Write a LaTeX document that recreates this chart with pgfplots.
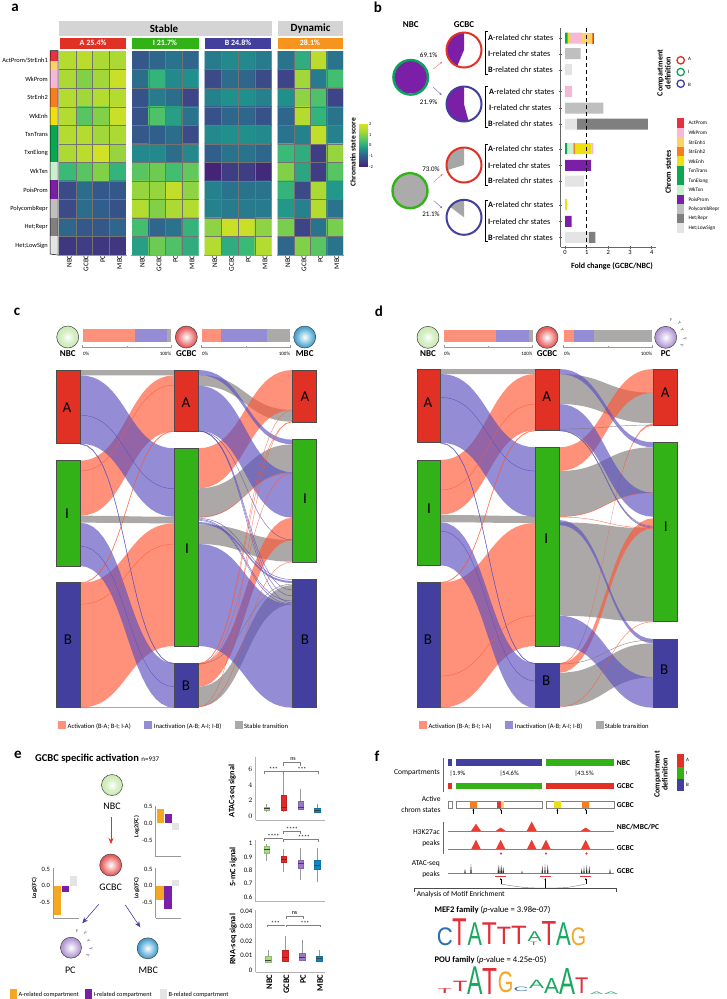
\documentclass[border=0pt]{standalone}
\usepackage{fontspec}
\setmainfont{Carlito}
\newfontfamily\logofont{Liberation Sans}
\usepackage{graphicx}
\usepackage{pgfplots}
\usepackage{pgfplotstable}
\pgfplotsset{compat=1.18}
\usetikzlibrary{arrows.meta}

\newcommand\fs[1]{\fontsize{#1}{#1}\selectfont}
\definecolor{cA}{HTML}{E13024}
\definecolor{cI}{HTML}{32B216}
\definecolor{cB}{HTML}{423F9F}
\definecolor{cO}{HTML}{F7941D}
\definecolor{cGr}{HTML}{0AA35E}
\definecolor{sAct}{HTML}{E5323C}
\definecolor{sWkP}{HTML}{F6B8D6}
\definecolor{sSt1}{HTML}{FDD068}
\definecolor{sSt2}{HTML}{F57F20}
\definecolor{sWkE}{HTML}{EEE010}
\definecolor{sTxn}{HTML}{0AA650}
\definecolor{sWkT}{HTML}{C8F0CC}
\definecolor{sPoi}{HTML}{7B1FA6}
\definecolor{sPol}{HTML}{BFBFBF}
\definecolor{sHet}{HTML}{7F7F7F}
\definecolor{sLow}{HTML}{E4E4E4}
\definecolor{lgC}{HTML}{2A6FB5}
\definecolor{lgT}{HTML}{E0303A}
\definecolor{lgA}{HTML}{1AA860}
\definecolor{lgG}{HTML}{F5A623}
\definecolor{bNBC}{HTML}{A8DC82}
\definecolor{bGC}{HTML}{E02A2A}
\definecolor{bPC}{HTML}{9A78C8}
\definecolor{bMBC}{HTML}{1186C2}
\definecolor{Rb}{HTML}{FF5533}
\definecolor{Pb}{HTML}{5A4FBE}
\definecolor{Gb}{HTML}{807A7A}

% cell balls
\pgfdeclareradialshading{sN}{\pgfpointorigin}{color(0bp)=(white); color(14bp)=(bNBC!45); color(50bp)=(bNBC)}
\pgfdeclareradialshading{sG}{\pgfpointorigin}{color(0bp)=(white); color(22bp)=(bGC!75); color(50bp)=(bGC!85!black)}
\pgfdeclareradialshading{sP}{\pgfpointorigin}{color(0bp)=(white); color(22bp)=(bPC!75); color(50bp)=(bPC!85!black)}
\pgfdeclareradialshading{sM}{\pgfpointorigin}{color(0bp)=(white); color(22bp)=(bMBC!75); color(50bp)=(bMBC!85!black)}
\pgfdeclareplotmark{ballN}{\pgfpathcircle{\pgfpointorigin}{\pgfplotmarksize}\pgfshadepath{sN}{0}\pgfusepathqstroke}
\pgfdeclareplotmark{ballG}{\pgfpathcircle{\pgfpointorigin}{\pgfplotmarksize}\pgfshadepath{sG}{0}\pgfusepathqstroke}
\pgfdeclareplotmark{ballP}{\pgfpathcircle{\pgfpointorigin}{\pgfplotmarksize}\pgfshadepath{sP}{0}\pgfusepathqstroke}
\pgfdeclareplotmark{ballM}{\pgfpathcircle{\pgfpointorigin}{\pgfplotmarksize}\pgfshadepath{sM}{0}\pgfusepathqstroke}
\newcommand\ball[4][10.5]{\addplot[only marks,mark=ball#2,mark size=#1pt,mark options={draw=black!75,line width=.5pt}] coordinates {(#3,#4)};}

\pgfplotsset{
  heat/.style={scale only axis,width=#1,height=204pt,y dir=reverse,
    xmin=-0.5,xmax=3.5,ymin=-0.5,ymax=10.5,
    colormap={vir}{rgb255=(70,28,115) rgb255=(62,66,135) rgb255=(45,105,140) rgb255=(32,145,140) rgb255=(55,185,120) rgb255=(115,205,80) rgb255=(175,218,50) rgb255=(215,226,35)},
    point meta min=-2,point meta max=2,
    xtick={0,1,2,3},xticklabels={NBC,GCBC,PC,MBC},
    x tick label style={rotate=90,anchor=east,font=\fs{7.2},inner sep=0,yshift=-2pt},
    major tick length=0pt,axis line style={draw=none},ytick=\empty},
  hp/.style={matrix plot*,mesh/cols=4,point meta=explicit},
  small/.style={scale only axis,clip=false,axis x line=bottom,axis y line=left,
    axis line style={draw=black!40,line width=.7pt,-},
    xtick=\empty,ytick={-0.5,0,0.5},yticklabels={-0.5,0.0,0.5},
    tick label style={font=\fs{6.5},inner sep=1pt},ytick style={draw=none}},
  sb/.style={ybar,bar shift=0pt,bar width=7.3pt,fill=#1,draw=none},
  bx/.style={scale only axis,clip=false,axis x line=bottom,axis y line=left,
    axis line style={draw=black!30,line width=.8pt,-},
    width=69.3pt,xmin=255.7,xmax=325,xtick=\empty,scaled y ticks=false,
    tick label style={font=\fs{6.8},inner sep=1pt},ytick style={draw=none}},
}
% one box: position, low whisker, q1, median, q3, high whisker, colour
\newcommand\bxp[7]{%
  \pgfmathsetmacro\xl{#1-2.85}\pgfmathsetmacro\xr{#1+2.85}%
  \edef\tmp{\noexpand\addplot[black!40,line width=.7pt] coordinates {(#1,#2)(#1,#6)};
    \noexpand\addplot[fill=#7,draw=#7!85!black,line width=.2pt] coordinates {(\xl,#3)(\xr,#3)(\xr,#5)(\xl,#5)} -- cycle;
    \noexpand\addplot[black!75,line width=.6pt] coordinates {(\xl,#4)(\xr,#4)};}\tmp}

% flow ribbon: x0, top0, bot0, x1, top1, bot1, style
\newcommand\flow[7]{%
  \gdef\pts{}%
  \pgfmathsetmacro\dx{#4-#1}%
  \foreach \t in {0,0.05,0.1,0.15,0.2,0.25,0.3,0.35,0.4,0.45,0.5,0.55,0.6,0.65,0.7,0.75,0.8,0.85,0.9,0.95,1}{%
    \pgfmathsetmacro\fx{1.5*\t*(1-\t)+\t*\t*\t}%
    \pgfmathsetmacro\fy{3*\t*\t-2*\t*\t*\t}%
    \pgfmathsetmacro\px{#1+\dx*\fx}%
    \pgfmathsetmacro\py{#2+(#5-#2)*\fy}%
    \xdef\pts{\pts(\px,\py)}%
  }%
  \foreach \t in {0,0.05,0.1,0.15,0.2,0.25,0.3,0.35,0.4,0.45,0.5,0.55,0.6,0.65,0.7,0.75,0.8,0.85,0.9,0.95,1}{%
    \pgfmathsetmacro\fx{1.5*\t*(1-\t)+\t*\t*\t}%
    \pgfmathsetmacro\fy{3*\t*\t-2*\t*\t*\t}%
    \pgfmathsetmacro\px{#4-\dx*\fx}%
    \pgfmathsetmacro\py{#6+(#3-#6)*\fy}%
    \xdef\pts{\pts(\px,\py)}%
  }%
  \edef\tmp{\noexpand\addplot[#7] coordinates {\pts} -- cycle;}\tmp
}
% pie wedge: cx, cy, r, from angle, to angle, colour
\newcommand\pieW[6]{%
  \gdef\pts{(#1,#2)}%
  \foreach \f in {0,0.1,0.2,0.3,0.4,0.5,0.6,0.7,0.8,0.9,1}{%
    \pgfmathsetmacro\aa{#4+(#5-#4)*\f}%
    \pgfmathsetmacro\px{#1+#3*cos(\aa)}%
    \pgfmathsetmacro\py{#2-#3*sin(\aa)}%
    \xdef\pts{\pts(\px,\py)}%
  }%
  \edef\tmp{\noexpand\addplot[fill=#6,draw=none] coordinates {\pts} -- cycle;}\tmp
}
% cell lines over one heatmap: left edge, width
\newcommand\hgrid[2]{%
  \pgfmathsetmacro\gxe{#1+#2}%
  \foreach \j in {1,2,3}{%
    \pgfmathsetmacro\gx{#1+#2*\j/4}%
    \edef\tmp{\noexpand\addplot[black!55,line width=.25pt] coordinates {(\gx,51)(\gx,255)};}\tmp}%
  \foreach \i in {1,...,10}{%
    \pgfmathsetmacro\gy{51+204*\i/11}%
    \edef\tmp{\noexpand\addplot[black!55,line width=.25pt] coordinates {(#1,\gy)(\gxe,\gy)};}\tmp}%
}
\newcommand\rect[5]{\addplot[fill=#5,draw=none] coordinates {(#1,#2)(#3,#2)(#3,#4)(#1,#4)} -- cycle;}
\newcommand\nd[5]{\addplot[fill=#5,draw=black!70,line width=.5pt] coordinates {(#1,#2)(#3,#2)(#3,#4)(#1,#4)} -- cycle;}
\newcommand\lin[2][black]{\addplot[#1,line width=.5pt] coordinates {#2};}
\newcommand\lab[4][]{\node[inner sep=0,font=\fs{#2},#1] at (#3) {#4};}
\newcommand\tri[5]{%
  \pgfmathsetmacro\xl{#1-#3/2}\pgfmathsetmacro\xr{#1+#3/2}\pgfmathsetmacro\yt{#2-#4}%
  \edef\tmp{\noexpand\addplot[fill=#5,draw=none] coordinates {(\xl,#2)(#1,\yt)(\xr,#2)} -- cycle;}\tmp}
\newcommand\lgl[6]{\node[anchor=south west,inner sep=0] at (#1,#2) {\resizebox{#3pt}{#4pt}{\color{#6}\logofont #5}};}
\newcommand\logo[6]{% x0 x1 ytop ybot letter colour
  \pgfmathsetmacro\ww{#2-#1}\pgfmathsetmacro\hh{#4-#3}%
  \edef\tmp{\noexpand\lgl{#1}{#4}{\ww}{\hh}{#5}{#6}}\tmp}
\newcommand\Y[3]{\node[inner sep=0,font=\fs{5},text=black!70,rotate=#3] at (#1,#2) {Y};}

\tikzset{
  fr/.style={fill=Rb,fill opacity=.65,draw=none},
  fp/.style={fill=Pb,fill opacity=.65,draw=none},
  fg/.style={fill=Gb,fill opacity=.65,draw=none},
  lr/.style={draw=Rb,draw opacity=.75,line width=.35pt},
  lp/.style={draw=Pb,draw opacity=.85,line width=.35pt},
  lg/.style={draw=Gb,draw opacity=.85,line width=.35pt},
}

% panel b, fold change of the chromatin states per row (row = pixel row of the bar)
\pgfplotstableread{
y     TxnE WkT  St2a WkE  WkP  St1  St2b Act  Poi  Pol  Low  Het
38.0  0.08 0    0.05 0.10 0.55 0.45 0.05 0.05 0    0    0    0
53.7  0    0    0    0    0    0    0    0    0    0.72 0    0
69.7  0    0    0    0    0    0    0    0    0    0    0.32 0
91.3  0    0    0    0.04 0.27 0    0    0    0    0    0    0
108.0 0    0    0    0    0    0    0    0    0    1.77 0    0
124.0 0    0    0    0    0    0    0    0    0    0    0.55 3.28
148.7 0.10 0.28 0.07 0.78 0.08 0    0    0    0    0    0    0
165.3 0    0    0    0    0    0    0    0    1.20 0    0    0
181.0 0    0    0    0    0    0    0    0    0    0    0.88 0
204.7 0    0    0    0.10 0    0    0    0    0    0    0    0
221.3 0    0    0    0    0    0    0    0    0.30 0    0    0
237.3 0    0    0    0    0    0    0    0    0    0    1.10 0.30
}\foldtab

\begin{document}
\begin{tikzpicture}
\path[use as bounding box] (0,0) rectangle (726pt,-999pt);

% ---------- a: heatmaps
\begin{axis}[heat=67pt,at={(59pt,-51pt)},anchor=north west,
  ytick={0,...,10},yticklabels={ActProm/StrEnh1,WkProm,StrEnh2,WkEnh,TxnTrans,TxnElong,WkTxn,PoisProm,PolycombRepr,Het;Repr,Het;LowSign},
  y tick label style={font=\fs{6.4},inner sep=0,xshift=-11pt}]
\addplot[hp] coordinates {
(0,0)[1.5](1,0)[1.6](2,0)[1.4](3,0)[1.4]
(0,1)[1.4](1,1)[1.0](2,1)[1.3](3,1)[1.8]
(0,2)[1.5](1,2)[1.3](2,2)[1.5](3,2)[1.5]
(0,3)[1.5](1,3)[0.6](2,3)[1.0](3,3)[1.8]
(0,4)[1.5](1,4)[1.5](2,4)[1.3](3,4)[1.4]
(0,5)[1.4](1,5)[1.6](2,5)[1.9](3,5)[1.2]
(0,6)[0.3](1,6)[0.6](2,6)[1.0](3,6)[0.2]
(0,7)[-1.3](1,7)[-0.8](2,7)[-1.1](3,7)[-1.1]
(0,8)[-1.3](1,8)[-0.8](2,8)[-1.0](3,8)[-1.2]
(0,9)[-0.9](1,9)[-1.1](2,9)[-1.1](3,9)[-0.9]
(0,10)[-1.6](1,10)[-1.5](2,10)[-1.6](3,10)[-1.6]
};
\end{axis}
\begin{axis}[heat=66.5pt,at={(132pt,-51pt)},anchor=north west]
\addplot[hp] coordinates {
(0,0)[-1.1](1,0)[-0.9](2,0)[-0.7](3,0)[-0.9]
(0,1)[-0.8](1,1)[0.2](2,1)[-0.4](3,1)[-0.3]
(0,2)[-1.2](1,2)[-0.6](2,2)[-0.8](3,2)[-1.4]
(0,3)[-1.2](1,3)[0.5](2,3)[-0.1](3,3)[-0.7]
(0,4)[-1.1](1,4)[-1.0](2,4)[-0.8](3,4)[-1.3]
(0,5)[-0.4](1,5)[-0.4](2,5)[-0.8](3,5)[-0.4]
(0,6)[0.6](1,6)[0.8](2,6)[0.4](3,6)[0.7]
(0,7)[1.2](1,7)[1.2](2,7)[1.7](3,7)[1.1]
(0,8)[1.5](1,8)[1.0](2,8)[1.4](3,8)[1.5]
(0,9)[0.4](1,9)[-0.9](2,9)[-0.7](3,9)[0.2]
(0,10)[-0.1](1,10)[0.8](2,10)[0.5](3,10)[0.1]
};
\end{axis}
\begin{axis}[heat=67pt,at={(204.5pt,-51pt)},anchor=north west]
\addplot[hp] coordinates {
(0,0)[-0.6](1,0)[-0.4](2,0)[-0.4](3,0)[-0.6]
(0,1)[-1.3](1,1)[-0.8](2,1)[-0.9](3,1)[-1.3]
(0,2)[-0.5](1,2)[-0.3](2,2)[-0.3](3,2)[-0.5]
(0,3)[-1.2](1,3)[-0.9](2,3)[-0.9](3,3)[-1.2]
(0,4)[-0.4](1,4)[-0.3](2,4)[-0.3](3,4)[-0.4]
(0,5)[-1.0](1,5)[-0.7](2,5)[-0.7](3,5)[-0.9]
(0,6)[-1.9](1,6)[-1.5](2,6)[-1.5](3,6)[-1.8]
(0,7)[-0.5](1,7)[-0.7](2,7)[-0.7](3,7)[-0.7]
(0,8)[-0.5](1,8)[-0.6](2,8)[-0.6](3,8)[-0.6]
(0,9)[1.1](1,9)[1.8](2,9)[1.8](3,9)[1.1]
(0,10)[1.5](1,10)[0.1](2,10)[0.3](3,10)[1.5]
};
\end{axis}
\begin{axis}[heat=65.5pt,at={(277.5pt,-51pt)},anchor=north west]
\addplot[hp] coordinates {
(0,0)[-0.7](1,0)[0.1](2,0)[1.6](3,0)[-0.7]
(0,1)[-1.4](1,1)[1.3](2,1)[-0.6](3,1)[0.4]
(0,2)[-0.3](1,2)[1.1](2,2)[0.5](3,2)[-1.4]
(0,3)[-0.9](1,3)[1.5](2,3)[0.2](3,3)[-0.7]
(0,4)[-0.7](1,4)[-0.5](2,4)[1.7](3,4)[-0.5]
(0,5)[0.3](1,5)[0.1](2,5)[-1.5](3,5)[1.2]
(0,6)[1.0](1,6)[0.0](2,6)[-1.5](3,6)[0.6]
(0,7)[0.2](1,7)[-1.3](2,7)[1.4](3,7)[-0.2]
(0,8)[-0.2](1,8)[-0.5](2,8)[1.5](3,8)[-0.7]
(0,9)[0.9](1,9)[-1.4](2,9)[-0.7](3,9)[0.9]
(0,10)[-0.9](1,10)[1.0](2,10)[0.6](3,10)[-0.7]
};
\end{axis}
% colour key
\begin{axis}[scale only axis,width=8pt,height=42.4pt,at={(359pt,-124.3pt)},anchor=north west,hide axis,
  xmin=0,xmax=1,ymin=-2,ymax=2,point meta min=-2,point meta max=2,
  colormap={vir}{rgb255=(70,28,115) rgb255=(62,66,135) rgb255=(45,105,140) rgb255=(32,145,140) rgb255=(55,185,120) rgb255=(115,205,80) rgb255=(175,218,50) rgb255=(215,226,35)}]
\addplot[surf,shader=interp,mesh/cols=2,point meta=y] coordinates {
(0,-2)(1,-2)(0,-1)(1,-1)(0,0)(1,0)(0,1)(1,1)(0,2)(1,2)};
\end{axis}

% ---------- b: fold change bars
\begin{axis}[scale only axis,width=95.3pt,height=219pt,at={(560.7pt,-28.3pt)},anchor=north west,
  xbar stacked,bar width=11pt,y dir=reverse,
  xmin=-0.2,xmax=4.2,ymin=28.3,ymax=247.3,
  axis x line=bottom,axis y line=left,axis line style={draw=black!60,line width=.6pt,-},
  xtick={0,1,2,3,4},ytick={38,53.7,69.7,91.3,108,124,148.7,165.3,181,204.7,221.3,237.3},yticklabels={},
  major tick length=2.5pt,tick style={draw=black!60,line width=.4pt},
  tick label style={font=\fs{6.5},inner sep=1.5pt},
  /pgf/number format/assume math mode=true]
\addplot[fill=sTxn,draw=none] table[x=TxnE,y=y]{\foldtab};
\addplot[fill=sWkT,draw=none] table[x=WkT,y=y]{\foldtab};
\addplot[fill=sSt2,draw=none] table[x=St2a,y=y]{\foldtab};
\addplot[fill=sWkE,draw=none] table[x=WkE,y=y]{\foldtab};
\addplot[fill=sWkP,draw=none] table[x=WkP,y=y]{\foldtab};
\addplot[fill=sSt1,draw=none] table[x=St1,y=y]{\foldtab};
\addplot[fill=sSt2,draw=none] table[x=St2b,y=y]{\foldtab};
\addplot[fill=sAct,draw=none] table[x=Act,y=y]{\foldtab};
\addplot[fill=sPoi,draw=none] table[x=Poi,y=y]{\foldtab};
\addplot[fill=sPol,draw=none] table[x=Pol,y=y]{\foldtab};
\addplot[fill=sLow,draw=none] table[x=Low,y=y]{\foldtab};
\addplot[fill=sHet,draw=none] table[x=Het,y=y]{\foldtab};
\end{axis}

% ---------- e: log2(FC) bars
\begin{axis}[small,width=25.3pt,height=51pt,at={(155.7pt,-805.7pt)},anchor=north west,xmin=155.7,xmax=181,ymin=-1,ymax=0.527]
\addplot[sb=lgG] coordinates {(160.3,0.42)};
\addplot[sb=sPoi] coordinates {(168.3,0.27)};
\addplot[sb=sLow] coordinates {(175.7,-0.2)};
\end{axis}
\begin{axis}[small,width=25.3pt,height=50pt,at={(53.3pt,-868.3pt)},anchor=north west,xmin=53.3,xmax=78.6,ymin=-0.978,ymax=0.52]
\addplot[sb=lgG] coordinates {(57.7,-0.88)};
\addplot[sb=sPoi] coordinates {(65.7,-0.2)};
\addplot[sb=sLow] coordinates {(73.3,0.28)};
\end{axis}
\begin{axis}[small,width=25.3pt,height=50pt,at={(155.7pt,-868.3pt)},anchor=north west,xmin=155.7,xmax=181,ymin=-0.978,ymax=0.52]
\addplot[sb=lgG] coordinates {(160,-0.42)};
\addplot[sb=sPoi] coordinates {(168,-0.7)};
\addplot[sb=sLow] coordinates {(175.7,0.18)};
\end{axis}

% ---------- e: box plots
\begin{axis}[bx,height=62.7pt,at={(255.7pt,-757.3pt)},anchor=north west,ymin=-0.47,ymax=7.53,ytick={0,2,4,6}]
\bxp{266.7}{0.6}{0.8}{1}{1.2}{1.6}{bNBC}
\bxp{283.7}{0.6}{0.75}{1.2}{2.7}{5.4}{bGC}
\bxp{300.7}{0.8}{0.9}{1.1}{2}{3.5}{bPC}
\bxp{317.3}{0.4}{0.55}{0.8}{1}{1.6}{bMBC}
\end{axis}
\begin{axis}[bx,height=61.7pt,at={(255.7pt,-840pt)},anchor=north west,ymin=0.565,ymax=1.028,ytick={0.6,0.7,0.8,0.9,1},yticklabels={0.6,0.7,0.8,0.9,1}]
\bxp{266.7}{0.87}{0.93}{0.955}{0.98}{1.0}{bNBC}
\bxp{283.7}{0.785}{0.865}{0.885}{0.91}{0.96}{bGC}
\bxp{300.7}{0.73}{0.82}{0.85}{0.875}{0.965}{bPC}
\bxp{317.3}{0.71}{0.81}{0.84}{0.875}{0.97}{bMBC}
\end{axis}
\begin{axis}[bx,height=62.3pt,at={(255.7pt,-910pt)},anchor=north west,ymin=-0.00136,ymax=0.0409,
  ytick={0,0.01,0.02,0.03,0.04},yticklabels={0,0.01,0.02,0.03,0.04},
  xtick={268.3,285.3,302,319},xticklabels={NBC,GCBC,PC,MBC},xtick style={draw=none},
  x tick label style={rotate=90,anchor=east,font=\bfseries\fs{8.5},inner sep=0,yshift=-1pt}]
\bxp{268.3}{0.005}{0.0055}{0.007}{0.0095}{0.014}{bNBC}
\bxp{285.3}{0.0055}{0.0065}{0.0085}{0.0135}{0.0235}{bGC}
\bxp{302}{0.0065}{0.007}{0.009}{0.012}{0.0205}{bPC}
\bxp{319}{0.006}{0.0065}{0.008}{0.0095}{0.014}{bMBC}
\end{axis}

% ---------- everything drawn in picture pixels
\begin{axis}[scale only axis,width=726pt,height=999pt,at={(0,0)},anchor=north west,
  xmin=0,xmax=726,ymin=0,ymax=999,y dir=reverse,hide axis,clip=false]

% panel letters
\lab[font=\bfseries\fs{15}]{15}{15,8}{a}
\lab[font=\bfseries\fs{15}]{15}{378,7}{b}
\lab[font=\bfseries\fs{15}]{15}{17,312}{c}
\lab[font=\bfseries\fs{15}]{15}{379,311}{d}
\lab[font=\bfseries\fs{15}]{15}{18,755}{e}
\lab[font=\bfseries\fs{15}]{15}{377,756}{f}

% a: headers
\hgrid{59}{67}
\hgrid{132}{66.5}
\hgrid{204.5}{67}
\hgrid{277.5}{65.5}
\rect{59}{21}{271.5}{35.5}{black!17}
\rect{277.5}{21}{343}{35.5}{black!17}
\lab[font=\bfseries\fs{11}]{11}{164,28.3}{Stable}
\lab[font=\bfseries\fs{11}]{11}{310.5,28.3}{Dynamic}
\rect{60}{37.7}{126}{48.5}{cA}
\rect{132}{37.7}{198.5}{48.5}{cI}
\rect{204.5}{37.7}{271}{48.5}{cB}
\rect{277.5}{37.7}{343}{48.5}{cO}
\lab[font=\bfseries\fs{8},text=white]{8}{93,43}{A 25.4\%}
\lab[font=\bfseries\fs{8},text=white]{8}{165,43}{I 21.7\%}
\lab[font=\bfseries\fs{8},text=white]{8}{238,43}{B 24.8\%}
\lab[font=\bfseries\fs{8},text=white]{8}{310,43}{28.1\%}
\rect{50}{51}{58}{60.5}{sAct}
\rect{50}{60.5}{58}{69.5}{sSt1}
\rect{50}{69.5}{58}{88}{sWkP}
\rect{50}{88}{58}{106.5}{sSt2}
\rect{50}{106.5}{58}{124.5}{sWkE}
\rect{50}{124.5}{58}{162}{sTxn}
\rect{50}{162}{58}{180}{sWkT}
\rect{50}{180}{58}{199}{sPoi}
\rect{50}{199}{58}{217.5}{sPol}
\rect{50}{217.5}{58}{236}{sHet}
\rect{50}{236}{58}{254}{sLow}
\lin{(50,50.5)(58,50.5)(58,255)(50,254)(50,50.5)}
\lin[black!40]{(58,255.7)(127,255.7)}
\lin[black!40]{(131,255.7)(199,255.7)}
\lin[black!40]{(204,255.7)(272,255.7)}
\lin[black!40]{(277,255.7)(344,255.7)}
\lab[font=\bfseries\fs{7.5},rotate=90]{7.5}{353,152}{Chromatin state score}
\lab[anchor=west]{4.5}{369,124.3}{2}
\lab[anchor=west]{4.5}{369,134.7}{1}
\lab[anchor=west]{4.5}{369,145}{0}
\lab[anchor=west]{4.5}{369,156}{-1}
\lab[anchor=west]{4.5}{369,166.7}{-2}

% b: pies
\lab[font=\bfseries\fs{9}]{9}{410.7,25}{NBC}
\lab[font=\bfseries\fs{9}]{9}{464,25}{GCBC}
\pieW{410.7}{77.3}{17}{0}{360}{sPoi}
\addplot[only marks,mark=o,mark size=17.3pt,mark options={draw=cGr,line width=2.4pt}] coordinates {(410.7,77.3)};
\pieW{410}{190.7}{17.2}{0}{360}{black!33}
\addplot[only marks,mark=o,mark size=17.5pt,mark options={draw=cI,line width=2.4pt}] coordinates {(410,190.7)};
\pieW{464}{50}{17.3}{90}{247}{sPoi}
\addplot[only marks,mark=o,mark size=17.5pt,mark options={draw=cA,line width=2pt}] coordinates {(464,50)};
\pieW{464}{104}{17.3}{90}{285}{sPoi}
\addplot[only marks,mark=o,mark size=17.5pt,mark options={draw=cB,line width=2pt}] coordinates {(464,104)};
\pieW{464}{165}{17.3}{90}{197}{black!35}
\addplot[only marks,mark=o,mark size=17.5pt,mark options={draw=cA,line width=2pt}] coordinates {(464,165)};
\pieW{464}{217.3}{17.3}{90}{143}{black!35}
\addplot[only marks,mark=o,mark size=17.5pt,mark options={draw=cB,line width=2pt}] coordinates {(464,217.3)};
\lab{7}{428.7,55.3}{69.1\%}
\lab{7}{428.7,101.7}{21.9\%}
\lab{7}{431,169}{73.0\%}
\lab{7}{431,214.3}{21.1\%}
\addplot[cA!70,line width=.4pt,-{Stealth[length=2.5pt]}] coordinates {(433.3,69)(442.3,61.7)};
\addplot[cB!80,line width=.4pt,-{Stealth[length=2.5pt]}] coordinates {(433.3,87.3)(441.7,95)};
\addplot[cA!70,line width=.4pt,-{Stealth[length=2.5pt]}] coordinates {(434,181.7)(442.7,174)};
\addplot[cB!80,line width=.4pt,-{Stealth[length=2.5pt]}] coordinates {(434,200.7)(442.3,208.3)};
% b: row labels and brackets
\lin{(488,31.7)(485,31.7)(485,74)(488,74)}
\lin{(488,86)(485,86)(485,127.3)(488,127.3)}
\lin{(488,144)(485,144)(485,185.3)(488,185.3)}
\lin{(488,200)(485,200)(485,241.7)(488,241.7)}
\lab[anchor=west]{8.2}{488,38}{\textbf{A}-related chr states}
\lab[anchor=west]{8.2}{488,53.7}{\textbf{I}-related chr states}
\lab[anchor=west]{8.2}{488,69.7}{\textbf{B}-related chr states}
\lab[anchor=west]{8.2}{489,91.3}{\textbf{A}-related chr states}
\lab[anchor=west]{8.2}{489,108}{\textbf{I}-related chr states}
\lab[anchor=west]{8.2}{488,124}{\textbf{B}-related chr states}
\lab[anchor=west]{8.2}{488,148.7}{\textbf{A}-related chr states}
\lab[anchor=west]{8.2}{488,165.3}{\textbf{I}-related chr states}
\lab[anchor=west]{8.2}{488,181}{\textbf{B}-related chr states}
\lab[anchor=west]{8.2}{488,204.7}{\textbf{A}-related chr states}
\lab[anchor=west]{8.2}{488,221.3}{\textbf{I}-related chr states}
\lab[anchor=west]{8.2}{488,237.3}{\textbf{B}-related chr states}
\addplot[black,line width=.5pt,dash pattern=on 4pt off 3pt] coordinates {(586.7,28.3)(586.7,247.3)};
\lab[font=\bfseries\fs{8}]{8}{612,266.5}{Fold change (GCBC/NBC)}
% b: keys
\lab[font=\bfseries\fs{8},rotate=90,align=center]{8}{664,73}{Compartment\\definition}
\addplot[only marks,mark=o,mark size=3.7pt,mark options={draw=cA,line width=1.3pt}] coordinates {(680.7,60.3)};
\addplot[only marks,mark=o,mark size=3.7pt,mark options={draw=cGr,line width=1.3pt}] coordinates {(680.7,72)};
\addplot[only marks,mark=o,mark size=3.7pt,mark options={draw=cB,line width=1.3pt}] coordinates {(680.7,83.7)};
\lab[anchor=west]{5}{688,59}{A}
\lab[anchor=west]{5}{688,72}{I}
\lab[anchor=west]{5}{688,85}{B}
\lab[font=\bfseries\fs{8},rotate=90]{8}{668,172}{Chrom states}
\rect{676.7}{118}{684}{127.6}{sAct}
\rect{676.7}{127.6}{684}{137.1}{sWkP}
\rect{676.7}{137.1}{684}{146.7}{sSt1}
\rect{676.7}{146.7}{684}{156.2}{sSt2}
\rect{676.7}{156.2}{684}{165.8}{sWkE}
\rect{676.7}{165.8}{684}{185}{sTxn}
\rect{676.7}{185}{684}{194.5}{sWkT}
\rect{676.7}{194.5}{684}{204.1}{sPoi}
\rect{676.7}{204.1}{684}{213.6}{sPol}
\rect{676.7}{213.6}{684}{223.2}{sHet}
\rect{676.7}{223.2}{684}{232.8}{sLow}
\lab[anchor=west]{5.3}{688.3,123.3}{ActProm}
\lab[anchor=west]{5.3}{688.3,133}{WkProm}
\lab[anchor=west]{5.3}{688.3,142.3}{StrEnh1}
\lab[anchor=west]{5.3}{688.3,152}{StrEnh2}
\lab[anchor=west]{5.3}{688.3,161.7}{WkEnh}
\lab[anchor=west]{5.3}{688.3,171}{TxnTrans}
\lab[anchor=west]{5.3}{688.3,180.7}{TxnElong}
\lab[anchor=west]{5.3}{688.3,190}{WkTxn}
\lab[anchor=west]{5.3}{688.3,200}{PoisProm}
\lab[anchor=west]{5.3}{688.3,209.3}{PolycombRepr}
\lab[anchor=west]{5.3}{688.3,218.7}{Het;Repr}
\lab[anchor=west]{5.3}{688.3,228.3}{Het;LowSign}

% ---------- c: flows
\flow{80}{370}{375.3}{174.3}{370}{375.3}{fg}
\flow{80}{460.7}{515.7}{174.3}{375.3}{431.3}{fr}
\flow{80}{375.3}{443.7}{174.3}{448.3}{516.7}{fp}
\flow{80}{515.7}{522.7}{174.3}{516.7}{523.3}{fg}
\flow{80}{583}{707.7}{174.3}{523.3}{646}{fr}
\flow{80}{522.7}{566}{174.3}{663.5}{707.7}{fp}
\flow{80}{707}{707.9}{174.3}{707}{707.9}{fg}
\flow{80}{415}{415.1}{174.3}{488.7}{488.8}{lp}
\flow{80}{443.7}{443.8}{174.3}{663.4}{663.5}{lp}
\flow{80}{444.2}{444.3}{174.3}{663.8}{663.9}{lp}
\flow{80}{471}{471.1}{174.3}{385}{385.1}{lr}
\flow{80}{582.7}{582.8}{174.3}{430.9}{431}{lr}
\flow{80}{583.2}{583.3}{174.3}{431.3}{431.4}{lr}
\flow{80}{604.3}{604.4}{174.3}{544}{544.1}{lr}
\flow{80}{546}{546.1}{174.3}{686.7}{686.8}{lp}
\flow{198.3}{375}{385.7}{292.7}{410}{421.7}{fg}
\flow{198.3}{488.3}{517.7}{292.7}{444.3}{472.3}{fg}
\flow{198.3}{524.3}{544}{292.7}{540}{561.7}{fg}
\flow{198.3}{686.7}{706.7}{292.7}{585}{604.3}{fg}
\flow{198.3}{448.3}{488.3}{292.7}{370}{410}{fr}
\flow{198.3}{663.3}{686.7}{292.7}{517.7}{540}{fr}
\flow{198.3}{385.7}{430.7}{292.7}{472.3}{517.7}{fp}
\flow{198.3}{544}{646}{292.7}{604.3}{707.7}{fp}
\flow{198.3}{370}{375}{292.7}{439.7}{444.3}{fp}
\flow{198.3}{522}{524}{292.7}{581}{583}{fp}
\flow{198.3}{431}{431.1}{292.7}{540}{540.1}{lp}
\flow{198.3}{431}{431.1}{292.7}{590}{590.1}{lp}
\flow{198.3}{430.8}{430.9}{292.7}{596}{596.1}{lp}
\flow{198.3}{430.6}{430.7}{292.7}{603}{603.1}{lp}
\flow{198.3}{518.3}{518.4}{292.7}{579.5}{579.6}{lp}
\flow{198.3}{519.3}{519.4}{292.7}{601}{601.1}{lp}
\flow{198.3}{520.3}{520.4}{292.7}{604}{604.1}{lp}
\flow{198.3}{517}{517.1}{292.7}{473}{473.1}{lr}
\flow{198.3}{663.5}{663.6}{292.7}{421.7}{421.8}{lr}
\flow{198.3}{664}{664.1}{292.7}{410}{410.1}{lr}
\flow{198.3}{664.5}{664.6}{292.7}{473}{473.1}{lr}
\flow{198.3}{706.8}{706.9}{292.7}{561.8}{561.9}{lr}
\flow{198.3}{707.2}{707.3}{292.7}{421.4}{421.5}{lr}
\flow{198.3}{663.8}{663.9}{292.7}{584}{584.1}{lg}
% c: nodes
\nd{56}{370}{80}{443.7}{cA}
\nd{56}{460.7}{80}{566}{cI}
\nd{56}{582.7}{80}{707.7}{cB}
\nd{174.3}{370}{198.3}{431.3}{cA}
\nd{174.3}{448.3}{198.3}{646.3}{cI}
\nd{174.3}{663.3}{198.3}{707.7}{cB}
\nd{292.7}{370}{316.7}{422.3}{cA}
\nd{292.7}{439.7}{316.7}{562}{cI}
\nd{292.7}{579}{316.7}{707.7}{cB}
\lab{15}{67,407.7}{A}
\lab{15}{67,514}{I}
\lab{15}{68,640}{B}
\lab{15}{186,402.3}{A}
\lab{15}{187,548.3}{I}
\lab{15}{186,686}{B}
\lab{15}{305,396.7}{A}
\lab{15}{305,499}{I}
\lab{15}{305,640}{B}
% c: header
\ball[11]{N}{67.7}{337}
\ball[11]{G}{186.3}{337}
\ball[11]{M}{304.7}{337}
\lab[font=\bfseries\fs{9}]{9}{67.7,354}{NBC}
\lab[font=\bfseries\fs{9}]{9}{186.3,354}{GCBC}
\lab[font=\bfseries\fs{9}]{9}{304.7,354}{MBC}
\rect{82.7}{329.3}{135}{342}{Rb!65}
\rect{135}{329.3}{167.3}{342}{Pb!65}
\rect{167.3}{329.3}{171.3}{342}{Gb!65}
\rect{201.7}{329.3}{221}{342}{Rb!65}
\rect{221}{329.3}{267}{342}{Pb!65}
\rect{267}{329.3}{290.3}{342}{Gb!65}
\lin[black!40]{(82.7,345)(82.7,347.3)(171.3,347.3)(171.3,345)}
\lin[black!40]{(127,346)(127,347.3)}
\lin[black!40]{(201.7,345)(201.7,347.3)(290.3,347.3)(290.3,345)}
\lin[black!40]{(246,346)(246,347.3)}
\lab[anchor=west]{5}{83,353.3}{0\%}
\lab[anchor=east]{5}{171.3,353.3}{100\%}
\lab[anchor=west]{5}{202,353.3}{0\%}
\lab[anchor=east]{5}{290.3,353.3}{100\%}
% c: key
\rect{58}{721}{66}{729.3}{Rb!65}
\rect{144}{721}{152.3}{729.3}{Pb!65}
\rect{234.7}{721}{242.7}{729.3}{Gb!65}
\lab[anchor=west]{6.6}{67.5,726.3}{Activation (B-A; B-I; I-A)}
\lab[anchor=west]{6.6}{153.7,726.3}{Inactivation (A-B; A-I; I-B)}
\lab[anchor=west]{6.6}{244,726.3}{Stable transition}

% ---------- d: flows
\flow{440.7}{369}{374}{535.3}{369}{374}{fg}
\flow{440.7}{460}{514.7}{535.3}{374}{430.3}{fr}
\flow{440.7}{374}{442.7}{535.3}{447.3}{516.7}{fp}
\flow{440.7}{515}{522.3}{535.3}{516}{523}{fg}
\flow{440.7}{582.6}{707.7}{535.3}{523}{646}{fr}
\flow{440.7}{522.3}{565.3}{535.3}{663.5}{707.7}{fp}
\flow{440.7}{707}{707.9}{535.3}{707}{707.9}{fg}
\flow{440.7}{397.3}{397.4}{535.3}{471}{471.1}{lp}
\flow{440.7}{442.7}{442.8}{535.3}{663.4}{663.5}{lp}
\flow{440.7}{443.2}{443.3}{535.3}{663.8}{663.9}{lp}
\flow{440.7}{490}{490.1}{535.3}{404}{404.1}{lr}
\flow{440.7}{582.3}{582.4}{535.3}{430.3}{430.4}{lr}
\flow{440.7}{582.8}{582.9}{535.3}{430.8}{430.9}{lr}
\flow{440.7}{676}{676.1}{535.3}{615.7}{615.8}{lr}
\flow{440.7}{531}{531.1}{535.3}{681}{681.1}{lp}
\flow{559}{374}{404}{653.3}{392.7}{423.3}{fg}
\flow{559}{471}{516.7}{653.3}{447.3}{492.7}{fg}
\flow{559}{522.3}{615.7}{653.3}{528.3}{621.7}{fg}
\flow{559}{672.7}{706.7}{653.3}{643.3}{677.3}{fg}
\flow{559}{447.3}{471}{653.3}{369}{392.7}{fr}
\flow{559}{663.3}{672.7}{653.3}{518.3}{528.3}{fr}
\flow{559}{663.5}{664.5}{653.3}{423.5}{425.3}{fr}
\flow{559}{404}{430.3}{653.3}{492.7}{516.7}{fp}
\flow{559}{615.7}{646}{653.3}{677.3}{707.7}{fp}
\flow{559}{369}{374}{653.3}{442.3}{447.3}{fp}
\flow{559}{520}{525}{653.3}{639}{643.3}{fp}
\flow{559}{429}{429.1}{653.3}{425}{425.1}{lg}
\flow{559}{430.3}{430.4}{653.3}{528}{528.1}{lp}
\flow{559}{430.5}{430.6}{653.3}{527}{527.1}{lp}
\flow{559}{430.7}{430.8}{653.3}{526}{526.1}{lg}
\flow{559}{516.5}{516.6}{653.3}{492.7}{492.8}{lr}
\flow{559}{517}{517.1}{653.3}{528}{528.1}{lr}
\flow{559}{707}{707.1}{653.3}{621.7}{621.8}{lr}
\flow{559}{664}{664.1}{653.3}{640}{640.1}{lg}
% d: nodes
\nd{417}{369}{440.7}{442.7}{cA}
\nd{417}{460}{440.7}{565.3}{cI}
\nd{417}{582.3}{440.7}{707.7}{cB}
\nd{535.3}{369}{559}{430.3}{cA}
\nd{535.3}{447.3}{559}{646}{cI}
\nd{535.3}{663.3}{559}{707.7}{cB}
\nd{653.3}{369}{677}{425.3}{cA}
\nd{653.3}{442.3}{677}{621.7}{cI}
\nd{653.3}{639}{677}{707.7}{cB}
\lab{15}{428,402.3}{A}
\lab{15}{429,509}{I}
\lab{15}{428,640}{B}
\lab{15}{546.7,396.7}{A}
\lab{15}{546.3,538.3}{I}
\lab{15}{546.3,680.7}{B}
\lab{15}{665.3,392.3}{A}
\lab{15}{665.7,526.7}{I}
\lab{15}{664.3,670}{B}
% d: header
\ball[11]{N}{428}{337.3}
\ball[11]{G}{547}{337.3}
\ball[11]{P}{665.7}{337.3}
\lab[font=\bfseries\fs{9}]{9}{428,353.5}{NBC}
\lab[font=\bfseries\fs{9}]{9}{547,353.5}{GCBC}
\lab[font=\bfseries\fs{9}]{9}{665.7,353.5}{PC}
\Y{670.7}{320.7}{-15}
\Y{679.3}{322.7}{-40}
\Y{682}{330}{-65}
\Y{685}{338.3}{-90}
\Y{681.7}{345}{-115}
\rect{444}{330}{496}{342.3}{Rb!65}
\rect{496}{330}{529.3}{342.3}{Pb!65}
\rect{529.3}{330}{532.7}{342.3}{Gb!65}
\rect{563.7}{330}{574.3}{342.3}{Rb!65}
\rect{574.3}{330}{593.7}{342.3}{Pb!65}
\rect{593.7}{330}{652.3}{342.3}{Gb!65}
\lin[black!40]{(444,345)(444,347.3)(532.7,347.3)(532.7,345)}
\lin[black!40]{(488.5,346)(488.5,347.3)}
\lin[black!40]{(563.7,345)(563.7,347.3)(652.3,347.3)(652.3,345)}
\lin[black!40]{(608,346)(608,347.3)}
\lab[anchor=west]{5}{444,353.7}{0\%}
\lab[anchor=east]{5}{532.7,353.7}{100\%}
\lab[anchor=west]{5}{564,353.7}{0\%}
\lab[anchor=east]{5}{652.3,353.7}{100\%}
% d: key
\rect{419}{721}{427.3}{729.3}{Rb!65}
\rect{504.7}{721}{513.3}{729.3}{Pb!65}
\rect{595.7}{721}{603.7}{729.3}{Gb!65}
\lab[anchor=west]{6.6}{428.3,726.3}{Activation (B-A; B-I; I-A)}
\lab[anchor=west]{6.6}{514.7,726.3}{Inactivation (A-B; A-I; I-B)}
\lab[anchor=west]{6.6}{604.7,726.3}{Stable transition}

% ---------- e: scheme
\lab[anchor=west]{10.5}{35,759}{\textbf{GCBC specific activation} {\fs{7}n=937}}
\ball{N}{112}{785}
\ball[11]{G}{110.7}{865}
\ball{P}{71}{947.7}
\ball{M}{147.7}{948.3}
\lab{10}{112,806}{NBC}
\lab{10}{110.7,887.3}{GCBC}
\lab{10}{70.3,970}{PC}
\lab{10}{148.3,970}{MBC}
\addplot[cA,line width=.6pt,-{Stealth[length=6pt,width=5pt]}] coordinates {(111,816.7)(111,844)};
\addplot[cB,line width=.6pt,-{Stealth[length=6pt,width=5pt]}] coordinates {(98.7,904.3)(82.3,923.3)};
\addplot[cB,line width=.6pt,-{Stealth[length=6pt,width=5pt]}] coordinates {(125.3,905)(140.3,927.3)};
\Y{76.7}{931.7}{-15}
\Y{85}{933.3}{-40}
\Y{88.3}{941}{-65}
\Y{91}{948.3}{-90}
\Y{87.7}{955.7}{-115}
\lab[font=\bfseries\fs{6},rotate=90]{6}{136.7,826.7}{Log2(FC)}
\lab[font=\bfseries\fs{6},rotate=90]{6}{136.7,888}{Log2(FC)}
\lab[font=\bfseries\fs{6},rotate=90]{6}{34.3,888}{Log2(FC)}
\rect{10}{989}{16.7}{999}{lgG}
\rect{85.3}{989}{92}{999}{sPoi}
\rect{160}{989}{166.7}{999}{sLow}
\lab[anchor=west]{6.3}{18.3,995}{A-related compartment}
\lab[anchor=west]{6.3}{93.3,995}{I-related compartment}
\lab[anchor=west]{6.3}{168.3,995}{B-related compartment}
% e: box labels and brackets
\lab[font=\bfseries\fs{8.2},rotate=90]{8.2}{232.3,791}{ATAC-seq signal}
\lab[font=\bfseries\fs{8.2},rotate=90]{8.2}{233.3,867}{5-mC signal}
\lab[font=\bfseries\fs{8.2},rotate=90]{8.2}{233.3,939.3}{RNA-seq signal}
\lin[black!50]{(264.7,773.5)(264.7,771)(283,771)}
\lin[black!50]{(283.7,765.5)(283.7,762.3)(300.7,762.3)(300.7,765.5)}
\lin[black!50]{(283.7,773.5)(283.7,771)(318.5,771)(318.5,773.5)}
\lab{6}{273.5,769.7}{***}
\lab{6}{293,759.3}{ns}
\lab{6}{302,769.7}{***}
\lin[black!50]{(264.7,840.5)(264.7,838)(283,838)}
\lin[black!50]{(283.7,833.5)(283.7,831)(300.7,831)(300.7,833.5)}
\lin[black!50]{(283.7,841.5)(283.7,839.3)(318.5,839.3)(318.5,841.5)}
\lab{6}{273.5,836.5}{****}
\lab{6}{292,829.5}{****}
\lab{6}{304,837.7}{****}
\lin[black!50]{(267.3,927)(267.3,925)(285,925)}
\lin[black!50]{(286.7,918.5)(286.7,916.5)(303.3,916.5)(303.3,918.5)}
\lin[black!50]{(286.7,927)(286.7,925)(320.7,925)(320.7,927)}
\lab{6}{275.5,923.5}{***}
\lab{6}{294.5,913.3}{ns}
\lab{6}{305,923.5}{***}

% ---------- f: tracks
\lin[black!60]{(443.3,758.3)(443.3,791.7)}
\rect{448.3}{759.3}{451.7}{766}{cB}
\rect{456}{759.3}{541.7}{766}{cB}
\rect{546}{759.3}{613.7}{766}{cI}
\rect{448.3}{782.7}{451.7}{789.3}{cA}
\rect{456}{782.7}{541.7}{789.3}{cI}
\rect{546}{782.7}{613.7}{789.3}{cA}
\lab[anchor=east]{7.5}{440,772.3}{Compartments}
\lab[anchor=west]{6.5}{449.3,773.7}{|1.9\%}
\lab[anchor=west]{6.5}{499.3,773.7}{|54.6\%}
\lab[anchor=west]{6.5}{574.3,773.7}{|43.5\%}
\lab[anchor=west,font=\bfseries\fs{7.5}]{7.5}{616.7,762.7}{NBC}
\lab[anchor=west,font=\bfseries\fs{7.5}]{7.5}{616.7,786}{GCBC}
\lab[anchor=east]{7.5}{440.7,799.3}{Active}
\lab[anchor=east]{7.5}{440.7,810}{chrom states}
\addplot[fill=white,draw=black!50,line width=.4pt] coordinates {(448.3,801.3)(451.7,801.3)(451.7,807.7)(448.3,807.7)} -- cycle;
\addplot[fill=white,draw=black!50,line width=.4pt] coordinates {(456,801.3)(541.7,801.3)(541.7,807.7)(456,807.7)} -- cycle;
\addplot[fill=white,draw=black!50,line width=.4pt] coordinates {(546,801.3)(613.7,801.3)(613.7,807.7)(546,807.7)} -- cycle;
\rect{470}{801.3}{476.7}{807.7}{sSt2}
\rect{497}{801.3}{500.7}{807.7}{sAct}
\rect{500.7}{801.3}{504}{807.7}{sSt1}
\rect{554}{801.3}{561}{807.7}{sWkE}
\rect{582}{801.3}{589}{807.7}{sSt2}
\lab[anchor=west,font=\bfseries\fs{7.5}]{7.5}{616.7,805}{GCBC}
\foreach \xa in {473.3,500.7,557.3,585.7}{
  \edef\tmp{\noexpand\addplot[black,line width=.3pt,-{Stealth[length=1.8pt,width=1.8pt]}] coordinates {(\xa,813.5)(\xa,808.8)};}\tmp}
\lin[black!60]{(443.3,821.7)(443.3,854)}
\lab[anchor=east]{7.5}{440,832}{H3K27ac}
\lab[anchor=east]{7.5}{440,843}{peaks}
\tri{476}{831}{10}{7.3}{sAct!85!orange}
\tri{500.7}{831}{10}{3.5}{sAct!85!orange}
\tri{531.7}{831}{10}{9.5}{sAct!85!orange}
\tri{585.7}{831}{10}{3.5}{sAct!85!orange}
\addplot[black!50,line width=1pt] coordinates {(448.3,831)(614,831)};
\tri{476}{849.7}{10}{10}{sAct!85!orange}
\tri{500.7}{849.7}{10}{10}{sAct!85!orange}
\tri{531.7}{849.7}{10}{10}{sAct!85!orange}
\tri{546}{849.7}{10}{10}{sAct!85!orange}
\tri{585.7}{849.7}{10}{10}{sAct!85!orange}
\addplot[black!50,line width=1pt] coordinates {(448.3,849.7)(614,849.7)};
\addplot[only marks,mark=*,mark size=.8pt,sAct] coordinates {(501,853.5)(546,853.5)(586.5,853.5)};
\lab[anchor=west,font=\bfseries\fs{7.5}]{7.5}{616.7,827.3}{NBC/MBC/PC}
\lab[anchor=west,font=\bfseries\fs{7.5}]{7.5}{616.7,848.3}{GCBC}
\lab[anchor=east]{7.5}{440,863.7}{ATAC-seq}
\lab[anchor=east]{7.5}{440,874}{peaks}
\addplot[black!50,line width=.7pt] coordinates {(448.3,873.7)(614,873.7)};
\tri{465}{873.4}{1.6}{4.7}{black!80}
\tri{471}{873.4}{1.6}{9.3}{black!80}
\tri{498.3}{873.4}{1.5}{8.3}{black!80}
\tri{500}{873.4}{1.5}{7}{black!80}
\tri{501.7}{873.4}{1.5}{8.3}{black!80}
\tri{503.3}{873.4}{1.5}{6.5}{black!80}
\tri{522}{873.4}{1.5}{2.7}{black!80}
\tri{542.3}{873.4}{1.5}{8}{black!80}
\tri{545}{873.4}{1.5}{9.3}{black!80}
\tri{547.7}{873.4}{1.5}{9}{black!80}
\tri{581.7}{873.4}{1.5}{5}{black!80}
\tri{584}{873.4}{1.5}{7}{black!80}
\tri{586.7}{873.4}{1.5}{8.5}{black!80}
\tri{589.3}{873.4}{1.5}{7.5}{black!80}
\tri{610}{873.4}{1.5}{5}{black!80}
\lab[anchor=west,font=\bfseries\fs{7.5}]{7.5}{616.7,871.3}{GCBC}
\addplot[sAct,line width=.7pt] coordinates {(495,876.3)(506,876.3)};
\addplot[sAct,line width=.7pt] coordinates {(540,876.3)(550.7,876.3)};
\addplot[sAct,line width=.7pt] coordinates {(580,876.3)(591.3,876.3)};
\addplot[black,line width=.3pt,-{Stealth[length=1.8pt,width=1.8pt]}] coordinates {(500.7,883.5)(500.7,878.3)};
\addplot[black,line width=.3pt,-{Stealth[length=1.8pt,width=1.8pt]}] coordinates {(545.3,888)(545.3,878.3)};
\addplot[black,line width=.3pt,-{Stealth[length=1.8pt,width=1.8pt]}] coordinates {(585.7,883.5)(585.7,878.3)};
\addplot[black!50,line width=.4pt,smooth] coordinates {(500.7,884)(525,887.5)(545.3,888)(566,887.5)(585.7,884)};
\lin[black!70]{(414.3,891.7)(414.3,888.5)(616.7,888.5)(616.7,891.7)}
\lab[anchor=west]{7.5}{416.7,894.3}{Analysis of Motif Enrichment}
\lab[font=\bfseries\fs{8},rotate=90,align=center]{8}{661,774.3}{Compartment\\definition}
\rect{676.7}{754}{684.3}{766.7}{cA}
\rect{676.7}{766.7}{684.3}{778.7}{cI}
\rect{676.7}{778.7}{684.3}{791}{cB}
\lab[anchor=west]{5}{686,760}{A}
\lab[anchor=west]{5}{686,772.7}{I}
\lab[anchor=west]{5}{686,785}{B}

% f: motif logos
\lab[anchor=west]{8.6}{434.3,910}{\textbf{MEF2 family} (\textit{p}-value = 3.98e-07)}
\logo{436.7}{452.7}{928.3}{946}{C}{lgC}
\logo{452.7}{467.3}{919.3}{946}{T}{lgT}
\logo{467.3}{481.7}{923.3}{946}{A}{lgA}
\logo{481.7}{496.7}{923.3}{945}{T}{lgT}
\logo{496.7}{511}{927.7}{945}{T}{lgT}
\logo{511}{526.7}{926.7}{945}{T}{lgT}
\logo{527.3}{541.3}{931.7}{941.5}{A}{lgA}
\logo{530}{537.3}{942.5}{946}{T}{lgT}
\logo{541.3}{556}{922}{946}{T}{lgT}
\logo{556}{570.7}{923.3}{946}{A}{lgA}
\logo{570.7}{586}{928.3}{946}{G}{lgG}
\lab[anchor=west]{8.6}{434.3,960}{\textbf{POU family} (\textit{p}-value = 4.25e-05)}
\logo{437.3}{451.7}{988.7}{993.5}{T}{lgT}
\logo{452.7}{467.3}{981.7}{992}{T}{lgT}
\logo{467.3}{482.7}{966.7}{994.3}{A}{lgA}
\logo{482.7}{497.7}{968.3}{994.3}{T}{lgT}
\logo{497.7}{513.3}{972.7}{993.3}{G}{lgG}
\logo{513.3}{528.3}{987.3}{991.7}{C}{lgC}
\logo{529}{544}{980}{988.3}{A}{lgA}
\logo{544}{559}{978.3}{993.3}{A}{lgA}
\logo{559}{575}{968.3}{994.3}{A}{lgA}
\logo{575}{588.3}{977.7}{993.3}{T}{lgT}
\logo{590}{603}{992}{994.5}{A}{lgA}
\logo{604}{618}{992}{994.5}{A}{lgA}
\end{axis}
\end{tikzpicture}
\end{document}
